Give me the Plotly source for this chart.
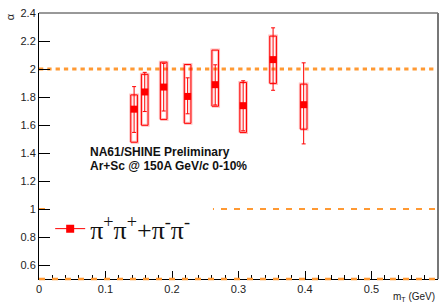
import plotly.graph_objects as go

# ---- data ----
mt = [0.143, 0.159, 0.1875, 0.2235, 0.265, 0.307, 0.352, 0.398]
alpha = [1.713, 1.836, 1.871, 1.804, 1.888, 1.738, 2.067, 1.745]
stat_hi = [1.874, 1.976, 2.040, 1.937, 2.030, 1.916, 2.294, 2.044]
stat_lo = [1.547, 1.696, 1.700, 1.680, 1.743, 1.559, 1.848, 1.465]
sys_hi = [1.815, 1.962, 2.049, 2.032, 2.135, 1.904, 2.235, 1.892]
sys_lo = [1.477, 1.598, 1.640, 1.612, 1.734, 1.547, 1.897, 1.570]
sys_halfwidth = 0.005
ref_levels = [2.0, 1.0, 0.5]
x_ticks = [0, 0.1, 0.2, 0.3, 0.4, 0.5, 0.6]
y_ticks = [0.6, 0.8, 1.0, 1.2, 1.4, 1.6, 1.8, 2.0, 2.2, 2.4]

RED = "#FF0000"
ORANGE = "#FF9933"
AX_FONT = dict(family="Liberation Sans, Arial", size=11, color="#222222")

fig = go.Figure()

# systematic boxes
bx, by = [], []
for x, lo, hi in zip(mt, sys_lo, sys_hi):
    bx += [x - sys_halfwidth, x + sys_halfwidth, x + sys_halfwidth, x - sys_halfwidth, x - sys_halfwidth, None]
    by += [lo, lo, hi, hi, lo, None]
fig.add_trace(go.Scatter(x=bx, y=by, mode="lines", line=dict(color="rgba(255,0,0,0.25)", width=3),
                         showlegend=False, hoverinfo="skip"))
fig.add_trace(go.Scatter(x=bx, y=by, mode="lines", line=dict(color=RED, width=1),
                         showlegend=False, hoverinfo="skip"))

# points with stat errors
fig.add_trace(go.Scatter(
    x=mt, y=alpha, mode="markers",
    marker=dict(symbol="square", size=7, color=RED),
    error_y=dict(type="data", symmetric=False,
                 array=[h - a for h, a in zip(stat_hi, alpha)],
                 arrayminus=[a - l for a, l in zip(alpha, stat_lo)],
                 color=RED, thickness=1, width=2),
    showlegend=False))

# legend-only trace
fig.add_trace(go.Scatter(x=[None], y=[None], mode="lines+markers",
                         line=dict(color=RED, width=1),
                         marker=dict(symbol="square", size=8, color=RED),
                         name="π<sup>+</sup>π<sup>+</sup>+π<sup>-</sup>π<sup>-</sup>"))

shapes = []
# reference lines
shapes.append(dict(type="line", xref="x domain", yref="y", x0=0, x1=1, y0=ref_levels[0], y1=ref_levels[0],
                   line=dict(color=ORANGE, width=3, dash="4.3px,4px"), layer="below"))
shapes.append(dict(type="line", xref="x domain", yref="y", x0=0, x1=1, y0=ref_levels[1], y1=ref_levels[1],
                   line=dict(color=ORANGE, width=2, dash="6px,7px"), layer="below"))
# legend background box
shapes.append(dict(type="rect", xref="paper", yref="paper", x0=0.030, x1=0.436, y0=0.10, y1=0.29,
                   fillcolor="white", line=dict(width=0), layer="below"))
shapes.append(dict(type="line", xref="x domain", yref="paper", x0=0, x1=1, y0=0, y1=0,
                   line=dict(color=ORANGE, width=2.5, dash="6px,7px"), layer="above"))
# frame top and right
shapes.append(dict(type="line", xref="paper", yref="paper", x0=0, x1=1, y0=1, y1=1,
                   line=dict(color="#333333", width=1), layer="above"))
shapes.append(dict(type="line", xref="paper", yref="paper", x0=1, x1=1, y0=0, y1=1,
                   line=dict(color="#777777", width=2), layer="above"))

annotations = [
    dict(text="<b>NA61/SHINE Preliminary</b>", xref="paper", yref="paper", x=0.123, y=0.478,
         xanchor="left", yanchor="middle", showarrow=False,
         font=dict(family="Liberation Sans, Arial", size=12, color="#111111")),
    dict(text="<b>Ar+Sc @ 150A GeV/<i>c</i> 0-10%</b>", xref="paper", yref="paper", x=0.123, y=0.424,
         xanchor="left", yanchor="middle", showarrow=False,
         font=dict(family="Liberation Sans, Arial", size=12, color="#111111")),
    dict(text="m<sub>T</sub> (GeV)", xref="paper", yref="paper", x=0.997, y=-0.067,
         xanchor="right", yanchor="middle", showarrow=False,
         font=dict(family="Liberation Sans, Arial", size=10, color="#222222")),
    dict(text="α", xref="paper", yref="paper", x=-0.072, y=0.985, textangle=-90,
         xanchor="center", yanchor="middle", showarrow=False,
         font=dict(family="Liberation Sans, Arial", size=11, color="#222222")),
]

fig.update_layout(
    width=445, height=303,
    margin=dict(l=39, r=7, t=9, b=24),
    paper_bgcolor="white", plot_bgcolor="white",
    shapes=shapes, annotations=annotations,
    showlegend=True,
    legend=dict(x=0.028, y=0.189, xanchor="left", yanchor="middle", bgcolor="rgba(0,0,0,0)",
                font=dict(family="Liberation Serif, Times New Roman", size=26, color="#111111"),
                itemwidth=30),
    xaxis=dict(range=[0, 0.6], tickmode="array", tickvals=x_ticks, ticktext=[f"{v:g}" for v in x_ticks],
               ticks="inside", ticklen=8, tickwidth=1, tickcolor="black",
               minor=dict(dtick=0.02, tick0=0, ticks="inside", ticklen=4, tickcolor="black"),
               showline=True, linecolor="black", linewidth=1, showgrid=False, zeroline=False,
               tickfont=AX_FONT),
    yaxis=dict(range=[0.5, 2.4], tickmode="array", tickvals=y_ticks, ticktext=[f"{v:g}" for v in y_ticks],
               ticks="inside", ticklen=11, tickwidth=1, tickcolor="black",
               showline=True, linecolor="black", linewidth=1, showgrid=False, zeroline=False,
               tickfont=AX_FONT),
)

fig.write_html("out.html", config={"displayModeBar": False},
               post_script="document.body.style.margin='0';document.body.style.padding='0';")
